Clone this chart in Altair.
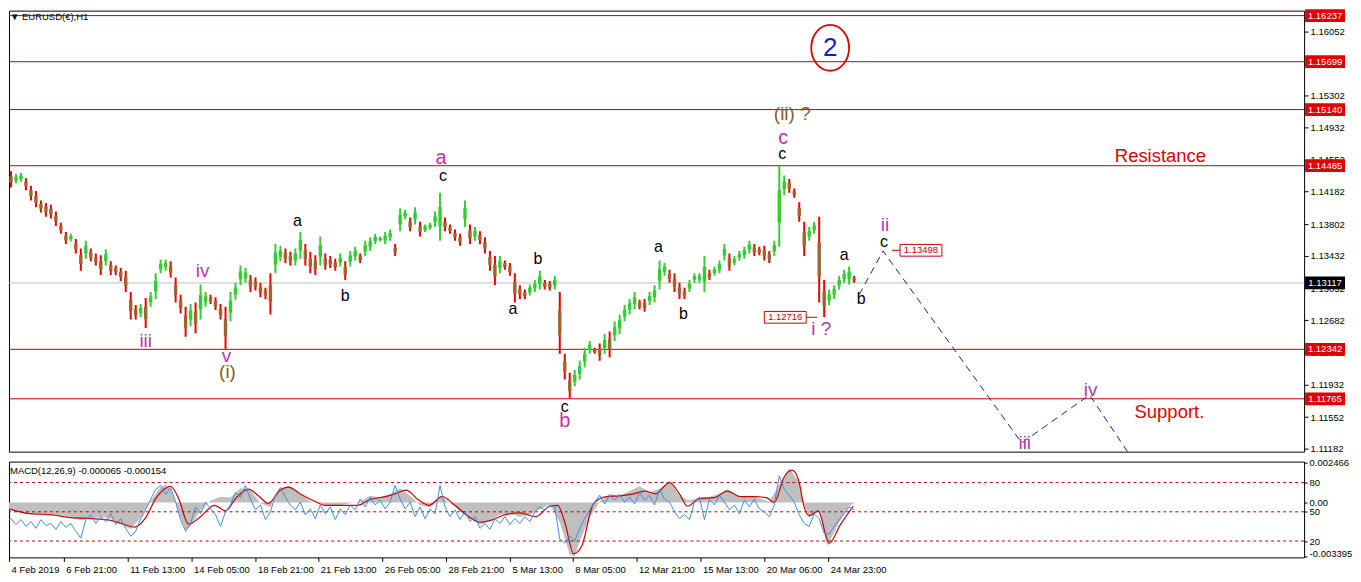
import altair as alt
import pandas as pd

# ---------------- layout ----------------
W, H1, H2 = 1298, 442, 96
X_DOM = [8, 1306]
P_DOM = [1.11148, 1.16295]
M_DOM = [-0.003434, 0.002546]
L_DOM = [3.2, 101.5]
FONT = "Liberation Sans"
GREEN, RED, BROWN = "#33cc33", "#ee0000", "#a0642c"

# ---------------- price data (H1 bars, sampled every 5 bars) ----------------
bar_x = list(range(0, 860, 5))
highs = [
    1.1448, 1.1452, 1.1442, 1.1439, 1.1440, 1.1434, 1.1425, 1.1419, 1.1408, 1.1405,
    1.1403, 1.1395, 1.1382, 1.1371, 1.1369, 1.1363, 1.1352, 1.1361, 1.1352, 1.1346,
    1.1344, 1.1351, 1.1337, 1.1332, 1.1329, 1.1326, 1.1301, 1.1286, 1.1287, 1.1294,
    1.1301, 1.1323, 1.1339, 1.1339, 1.1337, 1.1318, 1.1298, 1.1284, 1.1287, 1.1289,
    1.1310, 1.1301, 1.1298, 1.1295, 1.1287, 1.1284, 1.1301, 1.1312, 1.1332, 1.1329,
    1.1321, 1.1318, 1.1312, 1.1306, 1.1323, 1.1357, 1.1355, 1.1352, 1.1348, 1.1352,
    1.1371, 1.1357, 1.1348, 1.1344, 1.1366, 1.1346, 1.1343, 1.1340, 1.1346, 1.1337,
    1.1349, 1.1354, 1.1346, 1.1361, 1.1365, 1.1369, 1.1366, 1.1371, 1.1374, 1.1357,
    1.1399, 1.1397, 1.1388, 1.1400, 1.1383, 1.1380, 1.1382, 1.1395, 1.1417, 1.1388,
    1.1380, 1.1374, 1.1369, 1.1408, 1.1380, 1.1377, 1.1372, 1.1365, 1.1349, 1.1343,
    1.1343, 1.1338, 1.1335, 1.1323, 1.1309, 1.1304, 1.1310, 1.1315, 1.1326, 1.1315,
    1.1314, 1.1320, 1.1301, 1.1229, 1.1207, 1.1210, 1.1221, 1.1236, 1.1244, 1.1236,
    1.1241, 1.1252, 1.1255, 1.1267, 1.1275, 1.1286, 1.1293, 1.1301, 1.1292, 1.1293,
    1.1301, 1.1309, 1.1338, 1.1335, 1.1327, 1.1323, 1.1312, 1.1306, 1.1315, 1.1323,
    1.1323, 1.1343, 1.1327, 1.1331, 1.1338, 1.1357, 1.1346, 1.1343, 1.1349, 1.1354,
    1.1361, 1.1357, 1.1354, 1.1355, 1.1349, 1.1361, 1.1448, 1.1437, 1.1433, 1.1422,
    1.1406, 1.1383, 1.1377, 1.1383, 1.1389, 1.1315, 1.1304, 1.1309, 1.1320, 1.1327,
    1.1331, 1.1320,
]
lows = [
    1.1437, 1.1441, 1.1423, 1.1428, 1.1430, 1.1420, 1.1408, 1.1400, 1.1394, 1.1389,
    1.1387, 1.1378, 1.1369, 1.1357, 1.1360, 1.1346, 1.1326, 1.1340, 1.1337, 1.1332,
    1.1321, 1.1332, 1.1321, 1.1321, 1.1314, 1.1301, 1.1269, 1.1269, 1.1272, 1.1259,
    1.1284, 1.1293, 1.1323, 1.1326, 1.1318, 1.1289, 1.1276, 1.1249, 1.1261, 1.1253,
    1.1269, 1.1284, 1.1287, 1.1280, 1.1269, 1.1235, 1.1267, 1.1292, 1.1309, 1.1312,
    1.1301, 1.1303, 1.1295, 1.1293, 1.1275, 1.1323, 1.1337, 1.1335, 1.1332, 1.1332,
    1.1340, 1.1332, 1.1323, 1.1321, 1.1332, 1.1327, 1.1329, 1.1326, 1.1331, 1.1315,
    1.1331, 1.1338, 1.1335, 1.1343, 1.1349, 1.1357, 1.1360, 1.1357, 1.1361, 1.1343,
    1.1372, 1.1386, 1.1372, 1.1380, 1.1366, 1.1371, 1.1374, 1.1377, 1.1361, 1.1372,
    1.1369, 1.1361, 1.1355, 1.1377, 1.1357, 1.1361, 1.1357, 1.1346, 1.1326, 1.1309,
    1.1323, 1.1327, 1.1320, 1.1289, 1.1293, 1.1293, 1.1297, 1.1301, 1.1304, 1.1304,
    1.1303, 1.1304, 1.1229, 1.1199, 1.1177, 1.1191, 1.1199, 1.1213, 1.1229, 1.1229,
    1.1221, 1.1229, 1.1225, 1.1244, 1.1252, 1.1267, 1.1275, 1.1281, 1.1281, 1.1278,
    1.1286, 1.1289, 1.1304, 1.1320, 1.1312, 1.1301, 1.1293, 1.1293, 1.1301, 1.1312,
    1.1312, 1.1301, 1.1315, 1.1320, 1.1323, 1.1338, 1.1326, 1.1332, 1.1338, 1.1340,
    1.1346, 1.1343, 1.1344, 1.1338, 1.1335, 1.1343, 1.1354, 1.1414, 1.1417, 1.1411,
    1.1383, 1.1343, 1.1361, 1.1369, 1.1289, 1.1272, 1.1286, 1.1293, 1.1304, 1.1312,
    1.1310, 1.1312,
]

level_prices = [1.16237, 1.15699, 1.15140, 1.14485, 1.12342, 1.11765]
current_price = [1.13117]
price_ticks = [1.16052, 1.15682, 1.15302, 1.14932, 1.14552, 1.14182, 1.13802,
               1.13432, 1.13052, 1.12682, 1.12302, 1.11932, 1.11552, 1.11182]

# wave labels
black_txt = ["a", "b", "c", "b", "a", "c", "a", "b", "c", "a", "b", "c"]
black_x = [297, 345, 443, 538, 513, 565, 659, 684, 783, 845, 862, 885]
black_p = [1.1384, 1.1297, 1.1437, 1.1340, 1.1281, 1.1167, 1.1354, 1.1276,
           1.1462, 1.1344, 1.1293, 1.1360]
mag_txt = ["a", "b", "c"]
mag_x = [441, 565, 784]
mag_p = [1.1457, 1.1150, 1.1481]
roman_txt = ["iii", "iv", "v", "i ?", "ii", "iii", "iv"]
roman_x = [145, 202, 226, 822, 886, 1026, 1092]
roman_p = [1.1244, 1.1326, 1.1226, 1.1258, 1.1379, 1.1125, 1.1187]
brown_txt = ["(i)", "(ii) ?"]
brown_x = [227, 793]
brown_p = [1.1208, 1.1509]
red_txt = ["Resistance", "Support."]
red_x = [1162, 1171]
red_p = [1.1460, 1.1161]
circle_txt = ["2"]
circle_x = [831]
circle_p = [1.15861]

# projected path
proj_x = [860, 884, 1023, 1091, 1134]
proj_p = [1.1298, 1.1349, 1.1125, 1.1181, 1.1106]

# price tags inside the plot
tag_txt = ["1.13498", "1.12716"]
tag_x = [922, 786]
tag_p = [1.13498, 1.12716]
tag_line_x = [893, 807]
tag_line_x2 = [901, 818]

# ---------------- MACD panel data ----------------
hist_x = [0, 10, 20, 30, 40, 50, 60, 70, 80, 90,
          100, 110, 120, 130, 140, 150, 160, 165, 170, 180,
          185, 190, 200, 210, 220, 230, 240, 250, 260, 270,
          280, 290, 300, 310, 320, 330, 340, 350, 360, 370,
          380, 390, 400, 410, 420, 430, 440, 450, 460, 470,
          480, 490, 500, 510, 520, 530, 540, 550, 560, 570,
          575, 580, 590, 600, 610, 620, 630, 640, 650, 660,
          670, 680, 690, 700, 710, 720, 728, 740, 750, 760,
          770, 780, 790, 800, 805, 810, 820, 828, 840, 850,
          855]
hist_v = [-0.00036, -0.00047, -0.00065, -0.00077, -0.00077, -0.00083, -0.00077, -0.00089, -0.00112, -0.00101,
          -0.00089, -0.00101, -0.00136, -0.00166, -0.00095, 0.00012, 0.00095, 0.00112, 0.00083, -0.00095,
          -0.00172, -0.00148, -0.00047, 0.00012, 0.00036, 0.00030, 0.00089, 0.00077, -0.00006, -0.00030,
          0.00089, 0.00101, 0.00053, 0.00006, -0.00006, -0.00024, -0.00018, -0.00006, 0.00006, 0.00041,
          0.00030, 0.00053, 0.00089, 0.00041, -0.00018, -0.00030, 0.00041, -0.00006, -0.00053, -0.00101,
          -0.00136, -0.00112, -0.00077, -0.00071, -0.00089, -0.00077, -0.00041, -0.00012, -0.00124, -0.00326,
          -0.00337, -0.00243, -0.00095, 0.00006, 0.00053, 0.00041, 0.00071, 0.00101, 0.00065, 0.00083,
          0.00130, 0.00041, 0.00012, 0.00030, 0.00036, 0.00053, 0.00083, 0.00030, 0.00041, 0.00024,
          0.00006, 0.00112, 0.00213, 0.00124, -0.00006, -0.00095, -0.00053, -0.00272, -0.00124, -0.00024,
          -0.00006]
sig_x = [0, 15, 30, 50, 70, 90, 110, 120, 134, 145,
         155, 165, 170, 178, 188, 200, 214, 225, 235, 248,
         258, 268, 280, 288, 300, 313, 325, 340, 357, 370,
         385, 395, 406, 418, 429, 442, 455, 470, 480, 491,
         505, 520, 536, 550, 558, 565, 574, 582, 594, 607,
         620, 634, 645, 656, 670, 680, 688, 700, 715, 728,
         741, 755, 767, 775, 785, 793, 800, 804, 810, 819,
         830, 841, 854]
sig_v = [-0.00024, -0.00053, -0.00071, -0.00077, -0.00095, -0.00101, -0.00112, -0.00130, -0.00154, -0.00095,
         0.00024, 0.00089, 0.00101, 0.00024, -0.00136, -0.00089, -0.00018, -0.00053, 0.00024, 0.00083,
         0.00041, -0.00006, 0.00077, 0.00095, 0.00053, 0.00012, -0.00018, -0.00018, -0.00018, 0.00018,
         0.00036, 0.00053, 0.00077, 0.00018, -0.00018, 0.00036, -0.00018, -0.00095, -0.00124, -0.00112,
         -0.00077, -0.00065, -0.00089, -0.00024, -0.00018, -0.00124, -0.00320, -0.00272, -0.00006, 0.00036,
         0.00041, 0.00053, 0.00071, 0.00053, 0.00124, 0.00053, -0.00024, 0.00024, 0.00030, 0.00071,
         0.00036, 0.00036, 0.00030, 0.0, 0.00160, 0.00201, 0.00124, -0.00006, -0.00083, -0.00053,
         -0.00255, -0.00142, -0.00024]
blue_v = [47, 40, 43, 37, 42, 35, 40, 33, 42, 36,
          38, 32, 40, 34, 38, 30, 23, 42, 47, 38,
          45, 40, 48, 37, 43, 33, 25, 30, 43, 52,
          63, 73, 77, 68, 75, 60, 42, 30, 38, 55,
          48, 60, 53, 47, 35, 50, 57, 70, 65, 77,
          63, 52, 57, 42, 50, 67, 75, 65, 57, 52,
          60, 47, 53, 43, 57, 48, 55, 42, 53, 47,
          57, 52, 63, 55, 65, 57, 62, 53, 60, 77,
          63, 53, 60, 45, 55, 43, 53, 48, 77, 55,
          45, 52, 42, 50, 40, 45, 33, 38, 32, 43,
          38, 45, 37, 43, 38, 45, 40, 50, 55, 52,
          57, 55, 22, 18, 25, 20, 33, 43, 52, 60,
          67, 58, 67, 62, 68, 60, 65, 58, 70, 62,
          67, 57, 73, 63, 60, 50, 43, 47, 42, 60,
          65, 42, 63, 57, 67, 60, 52, 57, 48, 62,
          55, 63, 53, 50, 45, 57, 87, 73, 67, 60,
          47, 38, 35, 48, 43, 28, 27, 35, 42, 48,
          55, 52]
macd_levels = [80, 50, 20]
macd_ticks = [0.002466, 0.0, -0.003395]
macd_tick_txt = ["0.002466", "0.00", "-0.003395"]
macd_title = ["MACD(12,26,9) -0.000065 -0.000154"]
chart_title = ["\u25bc EURUSD(\u20ac),H1"]

tick_pos = [8, 63, 127, 191, 255, 318, 382, 446, 510, 573, 637, 701, 765, 829]
tick_labels = ["4 Feb 2019", "6 Feb 21:00", "11 Feb 13:00", "14 Feb 05:00", "18 Feb 21:00",
               "21 Feb 13:00", "26 Feb 05:00", "28 Feb 21:00", "5 Mar 13:00", "8 Mar 05:00",
               "12 Mar 21:00", "15 Mar 13:00", "20 Mar 06:00", "24 Mar 23:00"]

# ---------------- scales / axes ----------------
xs = alt.Scale(domain=X_DOM, nice=False, zero=False)
ps = alt.Scale(domain=P_DOM, nice=False, zero=False)
ms = alt.Scale(domain=M_DOM, nice=False, zero=False)
ls = alt.Scale(domain=L_DOM, nice=False, zero=False)

axis_common = dict(title=None, labelFont=FONT, labelFontSize=9.5, labelColor="black",
                   tickColor="black", domain=False, grid=False, labelOverlap=False)

price_axis = alt.Axis(orient="right", values=price_ticks, format=".5f", tickSize=4,
                      labelPadding=2, **axis_common)


def ternary(vals, labels):
    expr = ""
    for v, l in zip(vals, labels):
        expr += f"datum.value == {v} ? '{l}' : "
    return expr + "''"


x_axis = alt.Axis(orient="bottom", values=tick_pos, labelExpr=ternary(tick_pos, tick_labels),
                  tickSize=4, labelAlign="left", labelOffset=2, labelPadding=3,
                  labelFlush=False, **axis_common)
macd_axis = alt.Axis(orient="right", values=macd_ticks, labelExpr=ternary(macd_ticks, macd_tick_txt),
                     tickSize=3, labelPadding=2, labelFlush=True, labelFlushOffset=2, **axis_common)
level_axis = alt.Axis(orient="right", values=macd_levels, format="d", tickSize=3,
                      labelPadding=2, **axis_common)


def X(f):
    return alt.X(f, type="quantitative", scale=xs, axis=None)


def XM(f):
    return alt.X(f, type="quantitative", scale=xs, axis=x_axis)


def P(f):
    return alt.Y(f, type="quantitative", scale=ps, axis=price_axis)


# ---------------- price panel ----------------
levels = alt.Chart(pd.DataFrame({"p": level_prices})).mark_rule(
    color="#c80000", strokeWidth=1).encode(y=P("p"))
cur = alt.Chart(pd.DataFrame({"p": current_price})).mark_rule(
    color="#c0c0c0", strokeWidth=1).encode(y=P("p"))

cd = pd.DataFrame({"bar": bar_x, "high": highs, "low": lows})
mids = [(h + l) / 2 for h, l in zip(highs, lows)]
cd["dir"] = ["up"] + ["up" if mids[i] >= mids[i - 1] else "down" for i in range(1, len(mids))]

wick = alt.Chart(cd).mark_rule(strokeWidth=2.0, clip=True).encode(
    x=X("bar"), y=P("low"), y2="high",
    color=alt.when(alt.datum.dir == "up").then(alt.value(GREEN)).otherwise(alt.value(RED)))
body = alt.Chart(cd).transform_calculate(
    blo="datum.low + 0.3*(datum.high - datum.low)",
    bhi="datum.high - 0.3*(datum.high - datum.low)").mark_rule(strokeWidth=3.4, clip=True).encode(
    x=X("bar"), y=P("blo"), y2="bhi",
    color=alt.when(alt.datum.dir == "up").then(alt.value(GREEN)).otherwise(alt.value(BROWN)))

proj = alt.Chart(pd.DataFrame({"bar": proj_x, "p": proj_p})).mark_line(
    color="#1c1c8a", strokeDash=[7, 5], strokeWidth=1, clip=True).encode(x=X("bar"), y=P("p"))

tag_df = pd.DataFrame({"bar": tag_x, "p": tag_p, "t": tag_txt, "x1": tag_line_x, "x2": tag_line_x2})
tag_lines = alt.Chart(tag_df).mark_rule(color="#cc0000", strokeWidth=1).encode(
    x=X("x1"), x2="x2", y=P("p"))
RECT = "M-1,-0.28L1,-0.28L1,0.28L-1,0.28Z"
tag_boxes = alt.Chart(tag_df).mark_point(
    shape=RECT, size=1764, filled=True, fill="white", stroke="#cc0000", strokeWidth=1,
    opacity=1).encode(x=X("bar"), y=P("p"))
tag_text = alt.Chart(tag_df).mark_text(
    color="#cc0000", font=FONT, fontSize=9.5, align="center", baseline="middle").encode(
    x=X("bar"), y=P("p"), text="t:N")


def labels(txt, xv, pv, color, size):
    df = pd.DataFrame({"t": txt, "bar": xv, "p": pv})
    return alt.Chart(df).mark_text(color=color, font=FONT, fontSize=size, align="center",
                                   baseline="middle").encode(x=X("bar"), y=P("p"), text="t:N")


lab_black = labels(black_txt, black_x, black_p, "#000000", 16)
lab_mag = labels(mag_txt, mag_x, mag_p, "#c8329b", 20)
lab_rom = labels(roman_txt, roman_x, roman_p, "#b03ca8", 19)
lab_brown = labels(brown_txt, brown_x, brown_p, "#8b5a2b", 19)
lab_red = labels(red_txt, red_x, red_p, "#e00000", 18.5)
lab_circ = labels(circle_txt, circle_x, circle_p, "#1a1acc", 26)
ELL = "M0,-1A0.826,1,0,1,1,0,1A0.826,1,0,1,1,0,-1Z"
circ = alt.Chart(pd.DataFrame({"bar": circle_x, "p": circle_p})).mark_point(
    shape=ELL, size=2116, filled=False, color="#dd0000", strokeWidth=1.8, opacity=1).encode(
    x=X("bar"), y=P("p"))

axis_tags = pd.DataFrame({"p": level_prices, "t": [f"{v:.5f}" for v in level_prices]})
cur_tag = pd.DataFrame({"p": current_price, "t": [f"{v:.5f}" for v in current_price]})
ARECT = "M-1,-0.32L1,-0.32L1,0.32L-1,0.32Z"
ax_box = alt.Chart(axis_tags).mark_point(shape=ARECT, size=1600, filled=True, color="#e00000",
                                         strokeWidth=0, opacity=1).encode(x=alt.value(W + 21), y=P("p"))
ax_txt = alt.Chart(axis_tags).mark_text(color="white", font=FONT, fontSize=9.5, align="center",
                                        baseline="middle").encode(x=alt.value(W + 21), y=P("p"), text="t:N")
cur_box = alt.Chart(cur_tag).mark_point(shape=ARECT, size=1600, filled=True, color="#000000",
                                        strokeWidth=0, opacity=1).encode(x=alt.value(W + 21), y=P("p"))
cur_txt = alt.Chart(cur_tag).mark_text(color="white", font=FONT, fontSize=9.5, align="center",
                                       baseline="middle").encode(x=alt.value(W + 21), y=P("p"), text="t:N")
title_txt = alt.Chart(pd.DataFrame({"t": chart_title})).mark_text(
    color="black", font=FONT, fontSize=9.5, align="left", baseline="middle").encode(
    x=alt.value(1), y=alt.value(6), text="t:N")

price_chart = alt.layer(
    levels, cur, wick, body, proj, tag_lines, tag_boxes, tag_text,
    lab_black, lab_mag, lab_rom, lab_brown, lab_red, circ, lab_circ,
    ax_box, ax_txt, cur_box, cur_txt, title_txt,
).properties(width=W, height=H1)

# ---------------- MACD panel ----------------
hist = alt.Chart(pd.DataFrame({"bar": hist_x, "v": hist_v})).mark_area(
    color="#bfbfbf", clip=True).encode(
    x=XM("bar"), y=alt.Y("v:Q", scale=ms, axis=macd_axis), y2=alt.datum(0))
sig = alt.Chart(pd.DataFrame({"bar": sig_x, "v": sig_v})).mark_line(
    color="#cc0000", strokeWidth=1.2, interpolate="monotone", clip=True).encode(
    x=XM("bar"), y=alt.Y("v:Q", scale=ms, axis=macd_axis))
g1 = alt.layer(hist, sig)

lvl = alt.Chart(pd.DataFrame({"lv": macd_levels})).mark_rule(
    color="#c00000", strokeDash=[3, 3], strokeWidth=1).encode(
    y=alt.Y("lv:Q", scale=ls, axis=level_axis))
blue = alt.Chart(pd.DataFrame({"bar": bar_x, "v": blue_v})).mark_line(
    color="#3d8fe0", strokeWidth=1, clip=True).encode(
    x=XM("bar"), y=alt.Y("v:Q", scale=ls, axis=level_axis))
g2 = alt.layer(lvl, blue)

macd_lab = alt.Chart(pd.DataFrame({"t": macd_title})).mark_text(
    color="black", font=FONT, fontSize=9.5, align="left", baseline="middle").encode(
    x=alt.value(1), y=alt.value(9), text="t:N")

macd_chart = alt.layer(g1, g2, macd_lab).resolve_scale(y="independent").properties(
    width=W, height=H2)

chart = alt.vconcat(price_chart, macd_chart, spacing=2).properties(
    padding={"left": 0, "top": 0, "right": 0, "bottom": 0}
).configure_view(stroke="black", strokeWidth=1)

chart.save("out.html", embed_options={"renderer": "svg", "actions": False})
